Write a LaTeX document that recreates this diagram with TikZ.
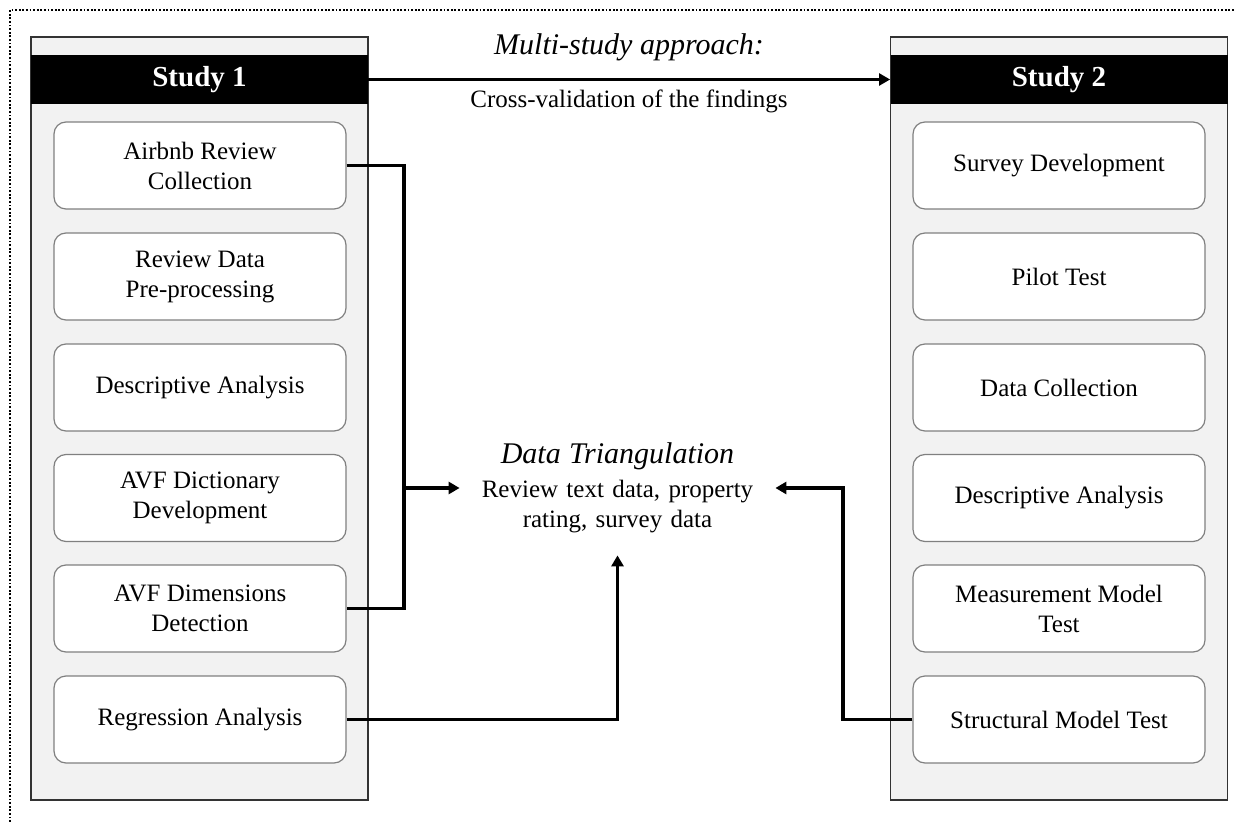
\documentclass[tikz,border=0pt]{standalone}
\usepackage{fontspec}
\setmainfont{Liberation Serif}
\usetikzlibrary{arrows.meta}

\tikzset{
  panel/.style={draw=black!80, fill=black!5, line width=0.6pt, minimum width=168.5pt, minimum height=381.5pt, inner sep=0pt},
  studyhead/.style={fill=black, text=white, font=\fontsize{14.5}{17}\selectfont\bfseries, minimum width=168.5pt, minimum height=24.5pt, inner sep=0pt},
  stepbox/.style={draw=black!50, fill=white, rounded corners=6pt, line width=0.6pt, minimum width=146pt, minimum height=43.5pt, align=center, inner sep=0pt, font=\fontsize{12.5}{15}\selectfont},
  link/.style={line width=1.8pt},
}

\begin{document}
\begin{tikzpicture}[x=0.5pt, y=-0.5pt, >={Triangle[length=5.5pt,width=6pt]}]
\useasboundingbox (0,0) rectangle (1234,822);
\draw[line width=1.1pt, dash pattern=on 0.9pt off 0.9pt] (10,822) -- (10,10) -- (1234,10);

% study 1
\node[panel] (s1) at (199.5,418.5) {};
\node[studyhead] (h1) at (199.5,79.5) {Study 1};
\node[stepbox] (a1) at (200,165.5) {Airbnb Review\\Collection};
\node[stepbox] (a2) at (200,276.5) {Review Data\\Pre-processing};
\node[stepbox] (a3) at (200,387.5) {Descriptive Analysis};
\node[stepbox] (a4) at (200,498) {AVF Dictionary\\Development};
\node[stepbox] (a5) at (200,608.5) {AVF Dimensions\\Detection};
\node[stepbox] (a6) at (200,719.5) {Regression Analysis};

% study 2
\node[panel] (s2) at (1059,418.5) {};
\node[studyhead] (h2) at (1059,79.5) {Study 2};
\node[stepbox] (b1) at (1059,165.5) {Survey Development};
\node[stepbox] (b2) at (1059,276.5) {Pilot Test};
\node[stepbox] (b3) at (1059,387.5) {Data Collection};
\node[stepbox] (b4) at (1059,498) {Descriptive Analysis};
\node[stepbox] (b5) at (1059,608.5) {Measurement Model\\Test};
\node[stepbox] (b6) at (1059,719.5) {Structural Model Test};

% multi-study link
\node[font=\fontsize{15}{18}\selectfont\itshape] (msa) at (629,47) {Multi-study approach:};
\node[font=\fontsize{12.5}{15}\selectfont] (cvf) at (629,101) {Cross-validation of the findings};
\draw[->, line width=1.2pt] (h1.east) -- (h2.west);

% triangulation
\node[text width=157.5pt, minimum height=67pt, inner sep=0pt, align=center, font=\fontsize{12.5}{15}\selectfont] (tri) at (617.5,488)
  {{\fontsize{15}{18}\selectfont\itshape Data Triangulation}\\[2pt] Review text data, property\\ rating, survey data};
\coordinate (jn) at (404,488);
\coordinate (kn) at (843,488);
\draw[link] (a1.east) -| (jn) |- (a5.east);
\draw[->, link] (jn) -- (tri.west);
\draw[->, link] (a6.east) -| (tri.south);
\draw[->, link] (b6.west) -| (kn) -- (tri.east);
\end{tikzpicture}
\end{document}
